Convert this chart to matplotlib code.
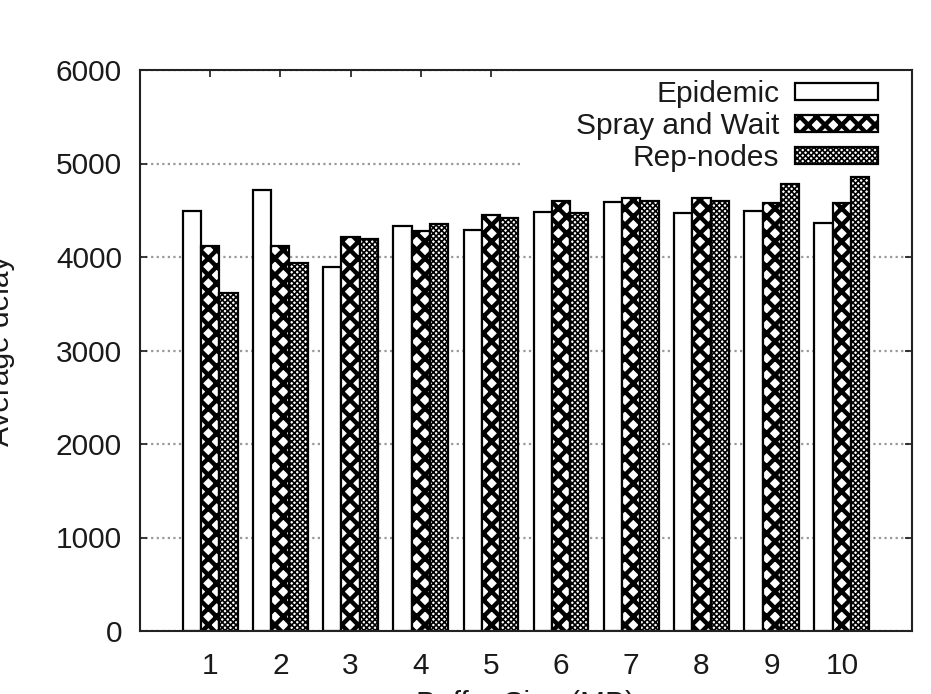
import numpy as np
import matplotlib
matplotlib.use("Agg")
from matplotlib import pyplot as plt
from matplotlib.patches import Rectangle

buffer_sizes = [1, 2, 3, 4, 5, 6, 7, 8, 9, 10]
epidemic = [4490, 4720, 3890, 4330, 4290, 4480, 4590, 4470, 4490, 4360]
spray_and_wait = [4120, 4120, 4210, 4280, 4450, 4600, 4630, 4630, 4580, 4580]
rep_nodes = [3610, 3940, 4190, 4350, 4420, 4470, 4600, 4600, 4780, 4860]

series = [
    ("Epidemic", epidemic, "", 1.0),
    ("Spray and Wait", spray_and_wait, "xx", 3.2),
    ("Rep-nodes", rep_nodes, "xxxxxx", 1.2),
]

FS = 21.5

plt.rcParams["font.family"] = ["Liberation Sans", "DejaVu Sans"]
plt.rcParams["font.size"] = FS
plt.rcParams["text.color"] = "#1a1a1a"
plt.rcParams["xtick.color"] = "#1a1a1a"
plt.rcParams["ytick.color"] = "#1a1a1a"

fig = plt.figure(figsize=(9.31, 6.94), dpi=100)
ax = fig.add_axes([140 / 931, 1 - 631 / 694, (912 - 140) / 931, (631 - 70) / 694])

x = np.array(buffer_sizes, dtype=float)
width = 0.26
hatch_widths = {}
for i, (label, values, hatch, hatch_lw) in enumerate(series):
    with plt.rc_context({"hatch.linewidth": hatch_lw, "hatch.color": "black"}):
        bars = ax.bar(x + (i - 1) * width, values, width, label=label,
                      facecolor="white", edgecolor="black", linewidth=1.6,
                      hatch=hatch, zorder=2)
    hatch_widths[label] = hatch_lw
    for b in bars:
        if hasattr(b, "set_hatch_linewidth"):
            b.set_hatch_linewidth(hatch_lw)

ax.set_xlim(0, 11)
ax.set_ylim(0, 6000)
ax.set_xticks(buffer_sizes)
ax.set_yticks(range(0, 6001, 1000))
ax.tick_params(direction="in", length=5, width=1.2, top=True, right=True,
               labelsize=FS)
ax.tick_params(axis="x", pad=15)
ax.tick_params(axis="y", pad=13)
ax.yaxis.grid(True, linestyle=(0, (1, 1.5)), color="#999999", linewidth=1.6,
              zorder=0)
ax.set_axisbelow(True)
for spine in ax.spines.values():
    spine.set_linewidth(1.5)
    spine.set_color("#222222")

# white key area, the grid does not run through it
ax.add_patch(Rectangle((0.492, 0.825), 0.508, 0.175, transform=ax.transAxes,
                       facecolor="white", edgecolor="none", zorder=1))

leg = ax.legend(loc="upper right", bbox_to_anchor=(1 - 24 / 772, 1),
                markerfirst=False, frameon=False,
                borderpad=0.25, borderaxespad=0.1,
                handlelength=2.75, handleheight=0.5, handletextpad=0.55,
                labelspacing=0.13, fontsize=FS)
leg.set_zorder(3)
for t in leg.get_texts():
    t.set_ha("right")
for handle, t in zip(leg.legend_handles, leg.get_texts()):
    if hasattr(handle, "set_hatch_linewidth"):
        handle.set_hatch_linewidth(hatch_widths[t.get_text()])

fig.text(1 / 931, 0.5 * (1 - 631 / 694) + 0.5 * (1 - 70 / 694),
         "Average delay", rotation=90, ha="center", va="center", fontsize=FS)
fig.text(526 / 931, 1 - 690 / 694, "Buffer Size (MB)", ha="center",
         va="top", fontsize=FS)

fig.savefig("out.png", dpi=100)
